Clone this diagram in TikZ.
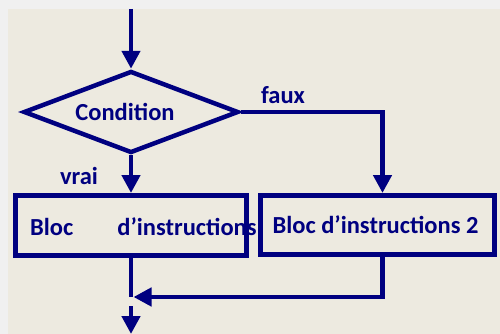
\documentclass[tikz,border=0pt]{standalone}
\usepackage{fontspec}
\setmainfont{Carlito}
\usetikzlibrary{shapes.geometric, arrows.meta, positioning}
\definecolor{navy}{RGB}{0,0,128}
\definecolor{paper}{RGB}{237,234,224}
\definecolor{frame}{RGB}{240,240,240}
\tikzstyle{decision} = [diamond, aspect=2.6, inner sep=0pt, minimum width=215pt, minimum height=82pt, draw=navy, line width=4.5pt, text=navy, font=\fontsize{24.5}{28}\selectfont\bfseries]
\tikzstyle{bloc} = [rectangle, inner sep=0pt, minimum height=60pt, draw=navy, line width=5pt, text=navy, font=\fontsize{24.5}{28}\selectfont\bfseries]
\tikzstyle{txt} = [inner sep=0pt, text=navy, font=\fontsize{24.5}{28}\selectfont\bfseries]
\tikzstyle{line} = [line width=4.5pt, draw=navy]
\tikzstyle{arrow} = [line width=4.5pt, draw=navy, -{Triangle[length=18pt,width=18pt]}]

\begin{document}
\begin{tikzpicture}[x=1pt, y=-1pt]

% Background
\useasboundingbox (0,0) rectangle (500,334);
\fill [frame] (0,0) rectangle (500,334);
\fill [paper] (8,9) rectangle (500,334);

% Test
\coordinate (In) at (131,9);
\node (C) [decision] at (131,112) {Condition\hspace*{12pt}};

% Blocks
\node (B1) [bloc, minimum width=231pt] at (131,225.5) {};
\node (T1) [txt, anchor=west] at (30,227) {Bloc\hspace{44pt}d’instructions};
\node (B2) [bloc, minimum width=234pt, minimum height=59pt] at (377.5,225) {Bloc d’instructions 2\hspace*{4pt}};

% Branch labels
\node (V) [txt] at (79,176) {vrai};
\node (F) [txt] at (283,95) {faux};

% Join
\coordinate (J) at (131,297);
\coordinate (Jin) at (133.5,297);
\coordinate (Out0) at (131,306);
\coordinate (Out1) at (131,334);

% Connecting arrows
\draw [arrow] (In) -- (C);
\draw [arrow] (C) -- (B1);
\draw [arrow] (C.east) -| ([xshift=5pt]B2.north);
\draw [line] (B1) -- (J);
\draw [arrow] ([xshift=5pt]B2.south) |- (Jin);
\draw [arrow] (Out0) -- (Out1);

\end{tikzpicture}
\end{document}
